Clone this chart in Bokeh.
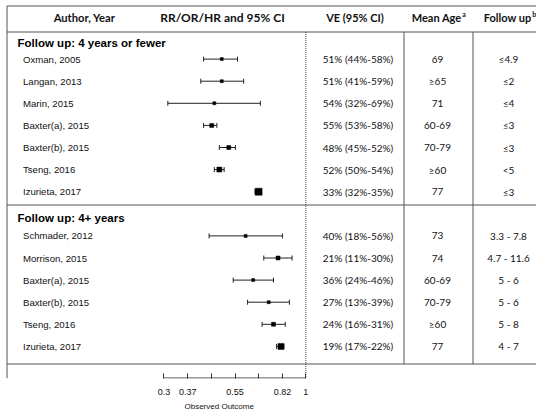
import numpy as np
from bokeh.plotting import figure
from bokeh.models import Range1d, FixedTicker, Title
from bokeh.core.properties import value
from bokeh.embed import file_html
from bokeh.resources import INLINE

# ---------------- data ----------------
sec1_title = "Follow up: 4 years or fewer"
sec1_authors = ["Oxman, 2005", "Langan, 2013", "Marin, 2015", "Baxter(a), 2015",
                "Baxter(b), 2015", "Tseng, 2016", "Izurieta, 2017"]
sec1_ve = [51, 51, 54, 55, 48, 52, 33]
sec1_lo = [44, 41, 32, 53, 45, 50, 32]
sec1_hi = [58, 59, 69, 58, 52, 54, 35]
sec1_age = ["69", "≥65", "71", "60-69", "70-79", "≥60", "77"]
sec1_fu = ["≤4.9", "≤2", "≤4", "≤3", "≤3", "<5", "≤3"]

sec2_title = "Follow up: 4+ years"
sec2_authors = ["Schmader, 2012", "Morrison, 2015", "Baxter(a), 2015",
                "Baxter(b), 2015", "Tseng, 2016", "Izurieta, 2017"]
sec2_ve = [40, 21, 36, 27, 24, 19]
sec2_lo = [18, 11, 24, 13, 16, 17]
sec2_hi = [56, 30, 46, 39, 31, 22]
sec2_age = ["73", "74", "60-69", "70-79", "≥60", "77"]
sec2_fu = ["3.3 - 7.8", "4.7 - 11.6", "5 - 6", "5 - 6", "5 - 8", "4 - 7"]

tick_values = [0.3, 0.3669, 0.4487, 0.5488, 0.6712, 0.8209, 1.0]
tick_labels = ["0.3", "0.37", "", "0.55", "", "0.82", "1"]

headers = ["Author, Year", "RR/OR/HR and 95% CI", "VE (95% CI)", "Mean Age", "Follow up"]
header_sups = ["a", "b"]
axis_title = "Observed Outcome"

# marker sizes (style)
sec1_box = [3, 3, 3, 4, 4, 5, 7]
sec2_box = [3, 4, 3, 3, 4, 6]

# ---------------- layout helpers (page pixel -> data coords) ----------------
PX_PER_LN = 117.8
X1_PX = 305.3
ROW0 = 58.6
ROW_H = 22.1


def xd(px):
    return float(np.exp((px - X1_PX) / PX_PER_LN))


def yd(py):
    return (py - ROW0) / ROW_H


W, H = 536, 415
FRAME_BOTTOM = 378
p = figure(width=W, height=H, x_axis_type="log", y_axis_location=None,
           x_range=Range1d(xd(0), xd(W)), y_range=Range1d(yd(FRAME_BOTTOM), yd(0)),
           min_border_left=0, min_border_right=0, min_border_top=0,
           min_border_bottom=H - FRAME_BOTTOM,
           output_backend="svg", toolbar_location=None)
p.xgrid.visible = False
p.ygrid.visible = False
p.outline_line_color = None
p.background_fill_color = "white"

ax = p.xaxis[0]
ax.ticker = FixedTicker(ticks=tick_values)
ax.major_label_overrides = {v: l for v, l in zip(tick_values, tick_labels)}
ax.axis_line_color = None
ax.major_tick_in = 5
ax.major_tick_out = 0
ax.major_tick_line_color = "#333333"
ax.minor_tick_line_color = None
ax.major_label_text_font = "Liberation Sans"
ax.major_label_text_font_size = "9px"
ax.major_label_text_color = "#111111"
ax.major_label_standoff = 10

# axis title under the forest column
p.add_layout(Title(text=axis_title, align="left", offset=184, standoff=5,
                   text_font="Liberation Sans", text_font_style="normal",
                   text_font_size="8px", text_color="#111111"), "below")

LINE = "#555555"
left, right = xd(6.5), xd(W)
# horizontal table lines
hy = [yd(5.5), yd(31.5), yd(204.5), yd(363.5)]
p.segment(x0=[left] * 4, y0=hy, x1=[right] * 4, y1=hy, line_color=LINE, line_width=1)
# left border
p.segment(x0=[left], y0=[yd(5.5)], x1=[left], y1=[yd(FRAME_BOTTOM)], line_color=LINE, line_width=1)
# column separators
vx = [xd(403.5), xd(472.5)]
p.segment(x0=vx, y0=[yd(31.5)] * 2, x1=vx, y1=[yd(363.5)] * 2, line_color=LINE, line_width=1)
# dotted reference line at 1
p.segment(x0=[1.0], y0=[yd(31.5)], x1=[1.0], y1=[yd(377.5)], line_color="#444444",
          line_width=1, line_dash="1 1")
# axis line from first to last tick
p.segment(x0=[tick_values[0]], y0=[yd(377.5)], x1=[tick_values[-1]], y1=[yd(377.5)],
          line_color="#333333", line_width=1)

# header texts
HFONT = value("Lato")
hy_txt = yd(17)
p.text(x=[xd(84)], y=[hy_txt], text=[headers[0]], text_font=HFONT, text_font_style="bold",
       text_font_size=value("11.2px"), text_align="center", text_baseline="middle", text_color="#111111")
p.text(x=[xd(222)], y=[hy_txt], text=[headers[1]], text_font=HFONT, text_font_style="bold",
       text_font_size=value("12px"), text_align="center", text_baseline="middle", text_color="#111111")
p.text(x=[xd(354.5)], y=[hy_txt], text=[headers[2]], text_font=HFONT, text_font_style="bold",
       text_font_size=value("11px"), text_align="center", text_baseline="middle", text_color="#111111")
p.text(x=[xd(461), xd(531)], y=[hy_txt] * 2, text=headers[3:5], text_font=HFONT,
       text_font_style="bold", text_font_size=value("11px"), text_align="right",
       text_baseline="middle", text_color="#111111")
p.text(x=[xd(461.8), xd(531.8)], y=[yd(13.5)] * 2, text=header_sups, text_font=HFONT,
       text_font_style="bold", text_font_size=value("7px"), text_align="left",
       text_baseline="middle", text_color="#111111")

# section titles
p.text(x=[xd(17), xd(17)], y=[yd(42), yd(217)], text=[sec1_title, sec2_title],
       text_font=value("Liberation Sans"), text_font_style="bold",
       text_font_size=value("11.5px"), text_align="left", text_baseline="middle",
       text_color="#000000")

CFONT = value("Lato")


def draw_section(rows, authors, ve, lo, hi, age, fu, box):
    ve = np.array(ve, dtype=float)
    lo = np.array(lo, dtype=float)
    hi = np.array(hi, dtype=float)
    rr = 1 - ve / 100.0
    rr_lo = 1 - hi / 100.0
    rr_hi = 1 - lo / 100.0
    rows = list(rows)
    p.text(x=[xd(22.5)] * len(rows), y=rows, text=authors, text_font=value("Liberation Sans"),
           text_font_size=value("9.6px"), text_align="left", text_baseline="middle",
           text_color="#111111")
    p.segment(x0=rr_lo, y0=rows, x1=rr_hi, y1=rows, line_color="#222222", line_width=1)
    p.scatter(x=rr_lo, y=rows, marker="dash", angle=np.pi / 2, size=5,
              line_color="#222222", line_width=1)
    p.scatter(x=rr_hi, y=rows, marker="dash", angle=np.pi / 2, size=5,
              line_color="#222222", line_width=1)
    p.scatter(x=rr, y=rows, marker="square", size=box, fill_color="black",
              line_color="black", line_width=0.5)
    ve_txt = [f"{int(a)}% ({int(b)}%-{int(c)}%)" for a, b, c in zip(ve, lo, hi)]
    p.text(x=[xd(357.5)] * len(rows), y=rows, text=ve_txt, text_font=CFONT,
           text_font_size=value("10px"), text_align="center", text_baseline="middle",
           text_color="#111111")
    p.text(x=[xd(437)] * len(rows), y=rows, text=age, text_font=CFONT,
           text_font_size=value("10px"), text_align="center", text_baseline="middle",
           text_color="#111111")
    p.text(x=[xd(508)] * len(rows), y=rows, text=fu, text_font=CFONT,
           text_font_size=value("10px"), text_align="center", text_baseline="middle",
           text_color="#111111")


draw_section(range(len(sec1_authors)), sec1_authors, sec1_ve, sec1_lo, sec1_hi,
             sec1_age, sec1_fu, sec1_box)
draw_section([len(sec1_authors) + 1 + i for i in range(len(sec2_authors))], sec2_authors,
             sec2_ve, sec2_lo, sec2_hi, sec2_age, sec2_fu, sec2_box)

open("out.html", "w").write(file_html(p, INLINE))
